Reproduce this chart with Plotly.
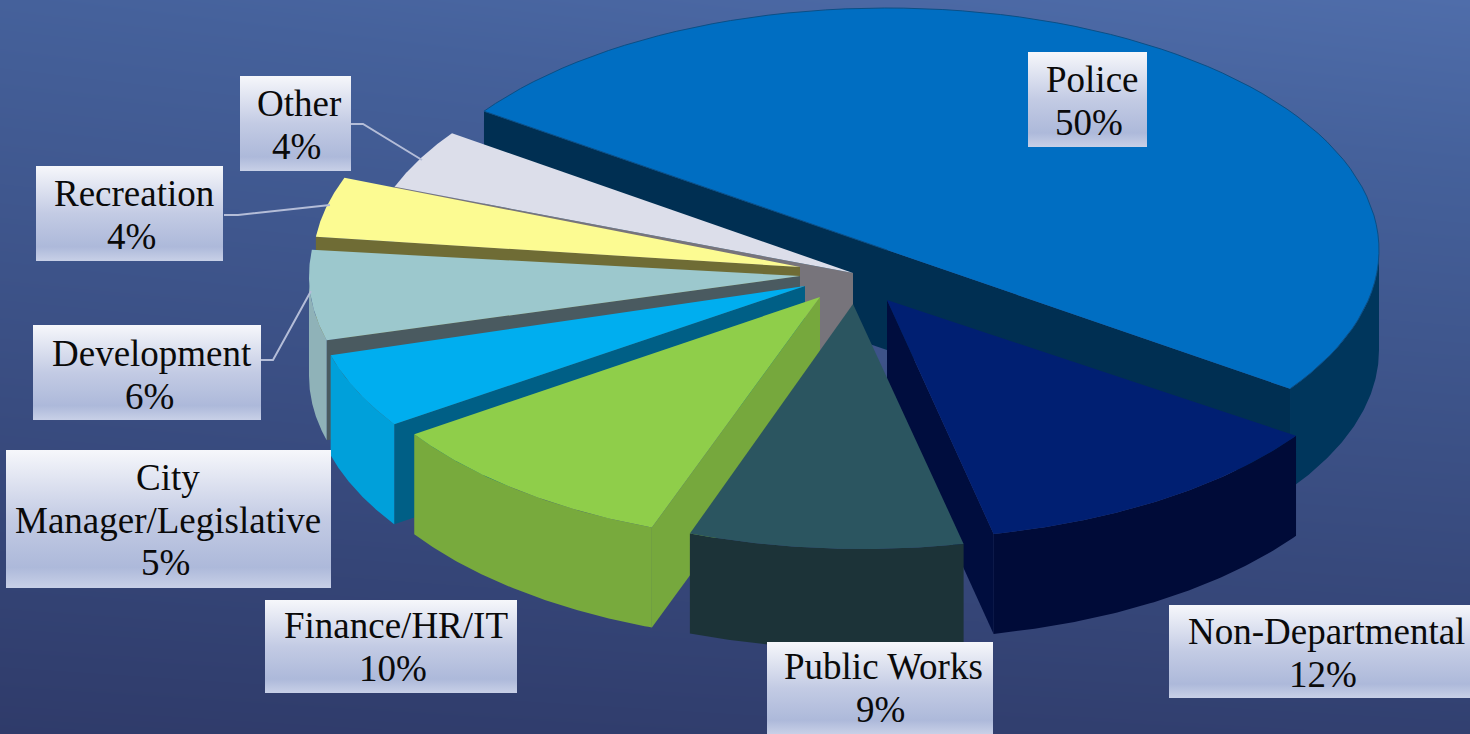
import numpy as np
import plotly.graph_objects as go

# ---- data ----
labels = ["Police", "Non-Departmental", "Public Works", "Finance/HR/IT",
          "City<br>Manager/Legislative", "Development", "Recreation", "Other"]
values = [50, 12, 9, 10, 5, 6, 4, 4]

# ---- per-slice styling (same order as the data) ----
top_colors = ["#006ec2", "#001f72", "#2b5560", "#8fce4a", "#00aeef", "#9cc8cd", "#fcfb92", "#dcdeea"]
rim_colors = ["#00365c", "#000b38", "#1c3338", "#78aa3d", "#00a0da", "#8fb2b8", "#6f6c35", "#7a7880"]
side_colors = ["#002f52", "#000d3e", "#1c3338", "#76a83d", "#005f86", "#4a5a60", "#6f6c35", "#77747b"]
centers = [(887, 250), (893, 297), (863, 307), (825, 301), (805, 291), (801, 276), (805, 263), (855, 272)]
apexes = [(887, 250), (887, 300), (853, 304), (820, 297), (805, 286), (800, 276), (800, 267), (853, 273)]
side_edge = ["both", "end", None, "start", "start", "start", "start", "start"]
draw_order = [0, 1, 7, 6, 5, 4, 3, 2]

# ---- layout constants ----
W, H = 1470, 734
RX, RY, DEPTH = 492, 242, 100
START_ANGLE = 145.0
LINE_PITCH = 42.5
PCT_SHIFT = -3
boxes = [(1028, 1147, 52, 147), (1169, 1470, 605, 698), (767, 993, 642, 734), (265, 517, 600, 693),
         (6, 331, 450, 588), (33, 261, 325, 420), (36, 223, 166, 261), (240, 351, 76, 171)]
text_pos = [(1092, 101), (1326, 653), (883, 688), (396, 647), (168, 520), (152, 375), (134, 215), (299, 125)]
leaders = {5: ([261, 273, 311], [360, 360, 291]),
           6: ([224, 238, 330], [215, 215, 205]),
           7: ([351, 363, 422], [124, 124, 160])}
FONT = "Liberation Serif"
BOX_SCALE = [[0, "#f6f7fb"], [0.5, "#c3cbe4"], [0.85, "#adb9da"], [1, "#c8d0e7"]]

fig = go.Figure()


def poly(xs, ys, color, outline=None):
    fig.add_trace(go.Scatter(x=list(xs), y=list(ys), mode="lines", fill="toself", fillcolor=color,
                             line=dict(width=1 if outline else 0, color=outline or color),
                             hoverinfo="skip", showlegend=False))


def rim(c, a1, a2, n=80):
    t = np.radians(np.linspace(a1, a2, n))
    return c[0] + RX * np.cos(t), c[1] - RY * np.sin(t)


# background gradient, given by its corner levels
fig.add_trace(go.Heatmap(x=[0, W], y=[0, H], z=[[0.80, 1.0], [0.0, 0.10]], zsmooth="best",
                         colorscale=[[0, "#2f3b6a"], [0.8, "#45619b"], [1, "#4f6daa"]],
                         showscale=False, hoverinfo="skip"))

# slice angle limits follow from the values, going clockwise
total = sum(values)
limits = []
a = START_ANGLE
for v in values:
    limits.append((a, a - 360.0 * v / total))
    a -= 360.0 * v / total

for i in draw_order:
    c = centers[i]
    p = apexes[i]
    a1, a2 = limits[i]
    # radial walls
    edges = {"both": [a2, a1], "end": [a2], "start": [a1]}.get(side_edge[i], [])
    for e in edges:
        rx, ry = rim(c, e, e, 1)
        poly([p[0], rx[0], rx[0], p[0]], [p[1], ry[0], ry[0] + DEPTH, p[1] + DEPTH], side_colors[i])
    # outer wall: only the part that faces the viewer
    lo, hi = max(a2, -180), min(a1, 0)
    if hi > lo:
        xs, ys = rim(c, hi, lo)
        poly(np.r_[xs, xs[::-1]], np.r_[ys, ys[::-1] + DEPTH], rim_colors[i])
    # top face
    xs, ys = rim(c, a1, a2)
    poly(np.r_[p[0], xs], np.r_[p[1], ys], top_colors[i], outline="#0b4f86" if i == 0 else None)

# leader lines
for lx, ly in leaders.values():
    fig.add_trace(go.Scatter(x=lx, y=ly, mode="lines", line=dict(color="#b4bdd8", width=2),
                             hoverinfo="skip", showlegend=False))

# label boxes and text
for i, (x0, x1, y0, y1) in enumerate(boxes):
    fig.add_trace(go.Scatter(x=[x0, x1, x1, x0, x0], y=[y0, y0, y1, y1, y0], mode="lines", fill="toself",
                             line=dict(width=0), hoverinfo="skip", showlegend=False,
                             fillgradient=dict(type="vertical", colorscale=BOX_SCALE, start=y0, stop=y1)))
    lines = labels[i].split("<br>") + [f"{values[i]}%"]
    for k, line in enumerate(lines):
        dx = PCT_SHIFT if k == len(lines) - 1 else 0
        fig.add_annotation(x=text_pos[i][0] + dx, y=text_pos[i][1] + (k - (len(lines) - 1) / 2) * LINE_PITCH,
                           text=line, showarrow=False, align="center",
                           font=dict(family=FONT, size=37, color="#0a0a0a"))

fig.update_layout(width=W, height=H, margin=dict(l=0, r=0, t=0, b=0), plot_bgcolor="#3c4f85",
                  paper_bgcolor="#3c4f85", showlegend=False,
                  xaxis=dict(range=[0, W], visible=False, fixedrange=True),
                  yaxis=dict(range=[H, 0], visible=False, fixedrange=True))

fig.write_html("out.html", config={"displayModeBar": False},
               post_script="document.body.style.margin='0';document.body.style.overflow='hidden';")
